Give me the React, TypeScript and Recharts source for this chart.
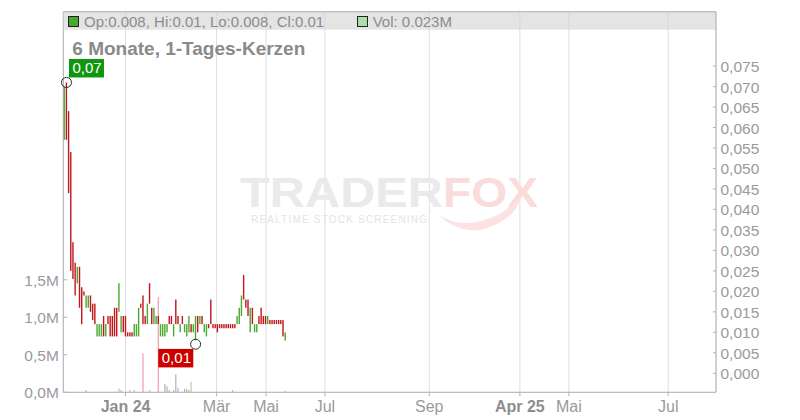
import React from 'react';
import { ComposedChart, Bar, XAxis, YAxis, CartesianGrid, ReferenceDot, Customized } from 'recharts';

// ---------------- data ----------------
const opens = [
  0.057, 0.071, 0.064, 0.054, 0.032, 0.027, 0.022, 0.026, 0.021, 0.020,
  0.016, 0.016, 0.019, 0.017, 0.017, 0.009, 0.009, 0.009, 0.014, 0.009,
  0.014, 0.014, 0.014, 0.016, 0.016, 0.015, 0.010, 0.014, 0.014, 0.010,
  0.010, 0.010, 0.009, 0.009, 0.009, 0.017, 0.019, 0.014, 0.012, 0.022,
  0.016, 0.012, 0.012, 0.014, 0.009, 0.009, 0.009, 0.010, 0.014, 0.014,
  0.009, 0.018, 0.014, 0.010, 0.014, 0.010, 0.009, 0.010, 0.012, 0.010,
  0.008, 0.014, 0.012, 0.014, 0.010, 0.009, 0.012, 0.018, 0.012, 0.012,
  0.012, 0.012, 0.012, 0.012, 0.012, 0.012, 0.012, 0.012, 0.012, 0.012,
  0.012, 0.014, 0.024, 0.018, 0.018, 0.010, 0.016, 0.010, 0.010, 0.014,
  0.016, 0.014, 0.014, 0.012, 0.013, 0.013, 0.013, 0.013, 0.013, 0.013,
  0.013, 0.008,
];

const closes = [
  0.070, 0.057, 0.044, 0.025, 0.023, 0.019, 0.026, 0.016, 0.012, 0.019,
  0.019, 0.019, 0.015, 0.013, 0.012, 0.012, 0.012, 0.012, 0.009, 0.012,
  0.012, 0.009, 0.009, 0.009, 0.009, 0.022, 0.014, 0.010, 0.009, 0.009,
  0.009, 0.009, 0.012, 0.012, 0.016, 0.016, 0.012, 0.012, 0.017, 0.017,
  0.012, 0.016, 0.014, 0.012, 0.012, 0.012, 0.012, 0.012, 0.012, 0.012,
  0.012, 0.012, 0.012, 0.012, 0.012, 0.012, 0.012, 0.014, 0.010, 0.012,
  0.014, 0.010, 0.014, 0.012, 0.012, 0.012, 0.011, 0.012, 0.011, 0.011,
  0.010, 0.011, 0.011, 0.011, 0.011, 0.011, 0.011, 0.011, 0.011, 0.014,
  0.016, 0.019, 0.018, 0.016, 0.014, 0.016, 0.012, 0.012, 0.012, 0.012,
  0.012, 0.012, 0.012, 0.014, 0.012, 0.012, 0.012, 0.012, 0.012, 0.012,
  0.009, 0.010,
];

// volume in millions
const volumes = [
  0, 0, 0, 0, 0, 0, 0, 0, 0, 0,
  0.03, 0, 0, 0, 0, 0, 0, 0, 0, 0,
  0, 0, 0, 0, 0, 0.05, 0.03, 0, 0, 0,
  0.03, 0, 0.03, 0, 0, 0, 0.52, 0, 0, 0.03,
  0, 0, 0, 1.27, 0, 0, 0.11, 0.08, 0.03, 0,
  0.03, 0.24, 0.06, 0, 0, 0.045, 0.045, 0.03, 0.14, 0,
  0, 0, 0, 0, 0, 0, 0, 0, 0, 0,
  0, 0, 0, 0, 0, 0, 0, 0.03, 0, 0,
  0, 0, 0, 0, 0, 0, 0, 0, 0, 0,
  0, 0, 0, 0, 0, 0, 0, 0, 0, 0,
  0, 0.023,
];

// volume tone: u = up, d = down, n = neutral
const volumeTones = [
  'n', 'n', 'n', 'n', 'n', 'n', 'n', 'n', 'n', 'n',
  'n', 'n', 'n', 'n', 'n', 'n', 'n', 'n', 'n', 'n',
  'n', 'n', 'n', 'n', 'n', 'u', 'n', 'n', 'n', 'n',
  'n', 'n', 'u', 'n', 'n', 'n', 'd', 'n', 'n', 'u',
  'n', 'n', 'n', 'd', 'n', 'n', 'n', 'n', 'n', 'n',
  'n', 'n', 'n', 'n', 'n', 'n', 'n', 'd', 'u', 'n',
  'n', 'n', 'n', 'n', 'n', 'n', 'n', 'n', 'n', 'n',
  'n', 'n', 'n', 'n', 'n', 'n', 'n', 'n', 'n', 'n',
  'n', 'n', 'n', 'n', 'n', 'n', 'n', 'n', 'n', 'n',
  'n', 'n', 'n', 'n', 'n', 'n', 'n', 'n', 'n', 'n',
  'n', 'u',
];

// x-axis tick positions (in trading-day index units) and labels
const xTickPositions = [28.0, 69.6, 92.2, 119.1, 166.8, 208.2, 230.6, 276.0];
const xTickLabels = ['Jan 24', 'Mär', 'Mai', 'Jul', 'Sep', 'Apr 25', 'Mai', 'Jul'];
const xTickBold = [true, false, false, false, false, true, false, false];

const priceTicks = [0, 0.005, 0.01, 0.015, 0.02, 0.025, 0.03, 0.035, 0.04, 0.045, 0.05, 0.055, 0.06, 0.065, 0.07, 0.075];
const volumeTicks = [0, 0.5, 1.0, 1.5];

// extreme markers
const extremes = [
  { index: 1, price: 0.071, kind: 'high' },
  { index: 60, price: 0.0071, kind: 'low' },
];

const xDomain: [number, number] = [-0.457, 297.84];
const priceDomain: [number, number] = [-0.00464, 0.0882];
const volumeDomain: [number, number] = [0, 5.07];

const data = opens.map((o, i) => ({
  i,
  open: o,
  close: closes[i],
  range: [Math.min(o, closes[i]), Math.max(o, closes[i])],
  vol: volumes[i],
  tone: volumeTones[i],
}));

// ---------------- layout / style ----------------
const W = 800;
const H = 420;
const PLOT_LEFT = 63.3;
const PLOT_RIGHT = 716;
const PLOT_TOP = 12;
const PLOT_BOTTOM = 392.3;
const LEFT_AXIS_W = 55;
const RIGHT_AXIS_W = 80;
const X_AXIS_H = 25;
const margin = {
  top: PLOT_TOP,
  left: PLOT_LEFT - LEFT_AXIS_W,
  right: W - PLOT_RIGHT - RIGHT_AXIS_W,
  bottom: H - PLOT_BOTTOM - X_AXIS_H,
};

const FONT = '"Liberation Sans", Arial, Helvetica, sans-serif';
const AXIS = '#b3b3b3';
const GRID = '#dedede';
const TEXT = '#9a9a9a';
const UP = '#4aa82e';
const DOWN = '#c0161c';
const TONE_COLORS: Record<string, string> = { u: '#a5d8a0', d: '#f09cab', n: '#b3b3b3' };

const fmtPrice = (v: number) => v.toFixed(3).replace('.', ',');
const fmtVol = (v: number) => v.toFixed(1).replace('.', ',') + 'M';

// ---------------- ticks ----------------
const PriceTick = (props: any) => {
  const { x, y, payload } = props;
  return (
    <g>
      <line x1={x - 3} x2={x} y1={y} y2={y} stroke={AXIS} />
      <text x={x + 4.5} y={y + 6} fontSize={15.5} fill={TEXT} fontFamily={FONT}>
        {fmtPrice(payload.value)}
      </text>
    </g>
  );
};

const VolTick = (props: any) => {
  const { x, y, payload } = props;
  return (
    <g>
      <line x1={x} x2={x + 4} y1={y} y2={y} stroke={AXIS} />
      <text x={x - 4.5} y={y + 6} fontSize={15.5} fill={TEXT} textAnchor="end" fontFamily={FONT}>
        {fmtVol(payload.value)}
      </text>
    </g>
  );
};

const XTick = (props: any) => {
  const { x, y, payload, index } = props;
  const bold = xTickBold[index];
  return (
    <g>
      <line x1={x} x2={x} y1={y} y2={y + 4} stroke={AXIS} />
      <text
        x={x}
        y={y + 20}
        fontSize={16}
        fill={bold ? '#8e8e8e' : TEXT}
        fontWeight={bold ? 'bold' : 'normal'}
        textAnchor="middle"
        fontFamily={FONT}
      >
        {xTickLabels[index] ?? payload.value}
      </text>
    </g>
  );
};

// ---------------- shapes ----------------
const CandleShape = (props: any) => {
  const { x, y, width, height, payload } = props;
  if (x == null || y == null) return <g />;
  const cx = x + (width || 0) / 2;
  const top = Math.min(y, y + height);
  const h = Math.max(Math.abs(height), 1);
  const color = payload.close >= payload.open ? UP : DOWN;
  return <rect x={cx - 0.7} y={top} width={1.4} height={h} fill={color} />;
};

const VolShape = (props: any) => {
  const { x, y, width, height, payload } = props;
  if (x == null || y == null || !height || Math.abs(height) < 0.2) return <g />;
  const cx = x + (width || 0) / 2;
  const top = Math.min(y, y + height);
  return <rect x={cx - 0.6} y={top} width={1.2} height={Math.abs(height)} fill={TONE_COLORS[payload.tone]} />;
};

const markerShape = (kind: string, price: number) => (props: any) => {
  const { cx, cy } = props;
  const label = price.toFixed(2).replace('.', ',');
  const boxW = 35;
  const boxH = 18.5;
  const bx = kind === 'high' ? cx + 2.5 : cx - 2.3 - boxW;
  const by = kind === 'high' ? cy - 5 - boxH : cy + 4.7;
  const fill = kind === 'high' ? '#0f980f' : '#cc0000';
  return (
    <g>
      <rect x={bx} y={by} width={boxW} height={boxH} fill={fill} />
      <text x={bx + 3.5} y={by + 14.5} fontSize={15} fill="#ffffff" fontFamily={FONT}>
        {label}
      </text>
      <circle cx={cx} cy={cy} r={5} fill="none" stroke="#2a2a2a" strokeWidth={1} />
    </g>
  );
};

// ---------------- overlays ----------------
const Watermark = () => (
  <g>
    <text x={240} y={206.5} fontSize={42} fontWeight="bold" fill="#eaeaea" fontFamily={FONT} textLength={203} lengthAdjust="spacingAndGlyphs">
      TRADER
    </text>
    <text x={443} y={206.5} fontSize={42} fontWeight="bold" fill="#fbdcdc" fontFamily={FONT} textLength={95} lengthAdjust="spacingAndGlyphs">
      FOX
    </text>
    <path d="M 438 214 Q 462 232 500 214 Q 512 206 522 196 Q 514 222 480 230 Q 455 232 438 214 Z" fill="#fce2e2" />
    <text x={251} y={223} fontSize={10} fill="#e4e4e4" fontFamily={FONT} textLength={176} lengthAdjust="spacing">
      REALTIME STOCK SCREENING
    </text>
  </g>
);

const last = data.length - 1;
const headerText = `Op:${opens[last]}, Hi:${Math.max(opens[last], closes[last])}, Lo:${Math.min(opens[last], closes[last])}, Cl:${closes[last]}`;
const volText = `Vol: ${volumes[last]}M`;

const Header = () => (
  <g>
    <rect x={PLOT_LEFT} y={PLOT_TOP - 0.3} width={PLOT_RIGHT - PLOT_LEFT} height={18} fill="#d4d4d4" fillOpacity={0.62} />
    <line x1={PLOT_LEFT} x2={PLOT_RIGHT} y1={PLOT_TOP - 0.3} y2={PLOT_TOP - 0.3} stroke={AXIS} />
    <rect x={68.5} y={16.5} width={10} height={10} fill={UP} stroke="#222" strokeWidth={1} />
    <text x={84} y={26.5} fontSize={15} fill="#8c8c8c" fontFamily={FONT}>
      {headerText}
    </text>
    <rect x={357.5} y={16.5} width={10} height={10} fill="#addcad" stroke="#222" strokeWidth={1} />
    <text x={372.7} y={26.5} fontSize={15} fill="#8c8c8c" fontFamily={FONT}>
      {volText}
    </text>
    <text x={72.3} y={54.5} fontSize={19} fontWeight="bold" fill="#8a8a8a" fontFamily={FONT}>
      6 Monate, 1-Tages-Kerzen
    </text>
  </g>
);

// ---------------- app ----------------
export default function App() {
  return (
    <div style={{ position: 'absolute', left: 0, top: 0, width: W, height: H, background: '#ffffff' }}>
      <div style={{ position: 'absolute', left: 0, top: 0 }}>
        <ComposedChart width={W} height={H} data={data} margin={margin}>
          <Customized component={Watermark} />
          <CartesianGrid yAxisId="price" stroke={GRID} strokeWidth={1} />
          <XAxis
            dataKey="i"
            type="number"
            domain={xDomain}
            allowDataOverflow
            ticks={xTickPositions}
            interval={0}
            tick={<XTick />}
            tickSize={0}
            tickMargin={0}
            tickLine={false}
            height={X_AXIS_H}
            axisLine={{ stroke: AXIS }}
          />
          <YAxis
            yAxisId="vol"
            orientation="left"
            width={LEFT_AXIS_W}
            domain={volumeDomain}
            allowDataOverflow
            ticks={volumeTicks}
            interval={0}
            tick={<VolTick />}
            tickSize={0}
            tickMargin={0}
            tickLine={false}
            axisLine={{ stroke: AXIS }}
          />
          <YAxis
            yAxisId="price"
            orientation="right"
            width={RIGHT_AXIS_W}
            domain={priceDomain}
            allowDataOverflow
            ticks={priceTicks}
            interval={0}
            tick={false}
            tickLine={false}
            axisLine={false}
          />
          <Bar yAxisId="vol" dataKey="vol" barSize={2} shape={VolShape} isAnimationActive={false} />
        </ComposedChart>
      </div>
      <div style={{ position: 'absolute', left: 0, top: 0 }}>
        <ComposedChart width={W} height={H} data={data} margin={margin}>
          <Customized component={Header} />
          <XAxis
            dataKey="i"
            type="number"
            domain={xDomain}
            allowDataOverflow
            ticks={xTickPositions}
            tick={false}
            tickLine={false}
            axisLine={false}
            height={X_AXIS_H}
          />
          <YAxis
            yAxisId="vol"
            orientation="left"
            width={LEFT_AXIS_W}
            domain={volumeDomain}
            allowDataOverflow
            tick={false}
            tickLine={false}
            axisLine={false}
          />
          <YAxis
            yAxisId="price"
            orientation="right"
            width={RIGHT_AXIS_W}
            domain={priceDomain}
            allowDataOverflow
            ticks={priceTicks}
            interval={0}
            tick={<PriceTick />}
            tickSize={0}
            tickMargin={0}
            tickLine={false}
            axisLine={{ stroke: AXIS }}
          />
          <Bar yAxisId="price" dataKey="range" barSize={2} shape={CandleShape} isAnimationActive={false} />
          {extremes.map((m) => (
            <ReferenceDot
              key={m.kind}
              yAxisId="price"
              x={m.index}
              y={m.price}
              r={5}
              ifOverflow="visible"
              shape={markerShape(m.kind, m.price)}
            />
          ))}
        </ComposedChart>
      </div>
    </div>
  );
}
